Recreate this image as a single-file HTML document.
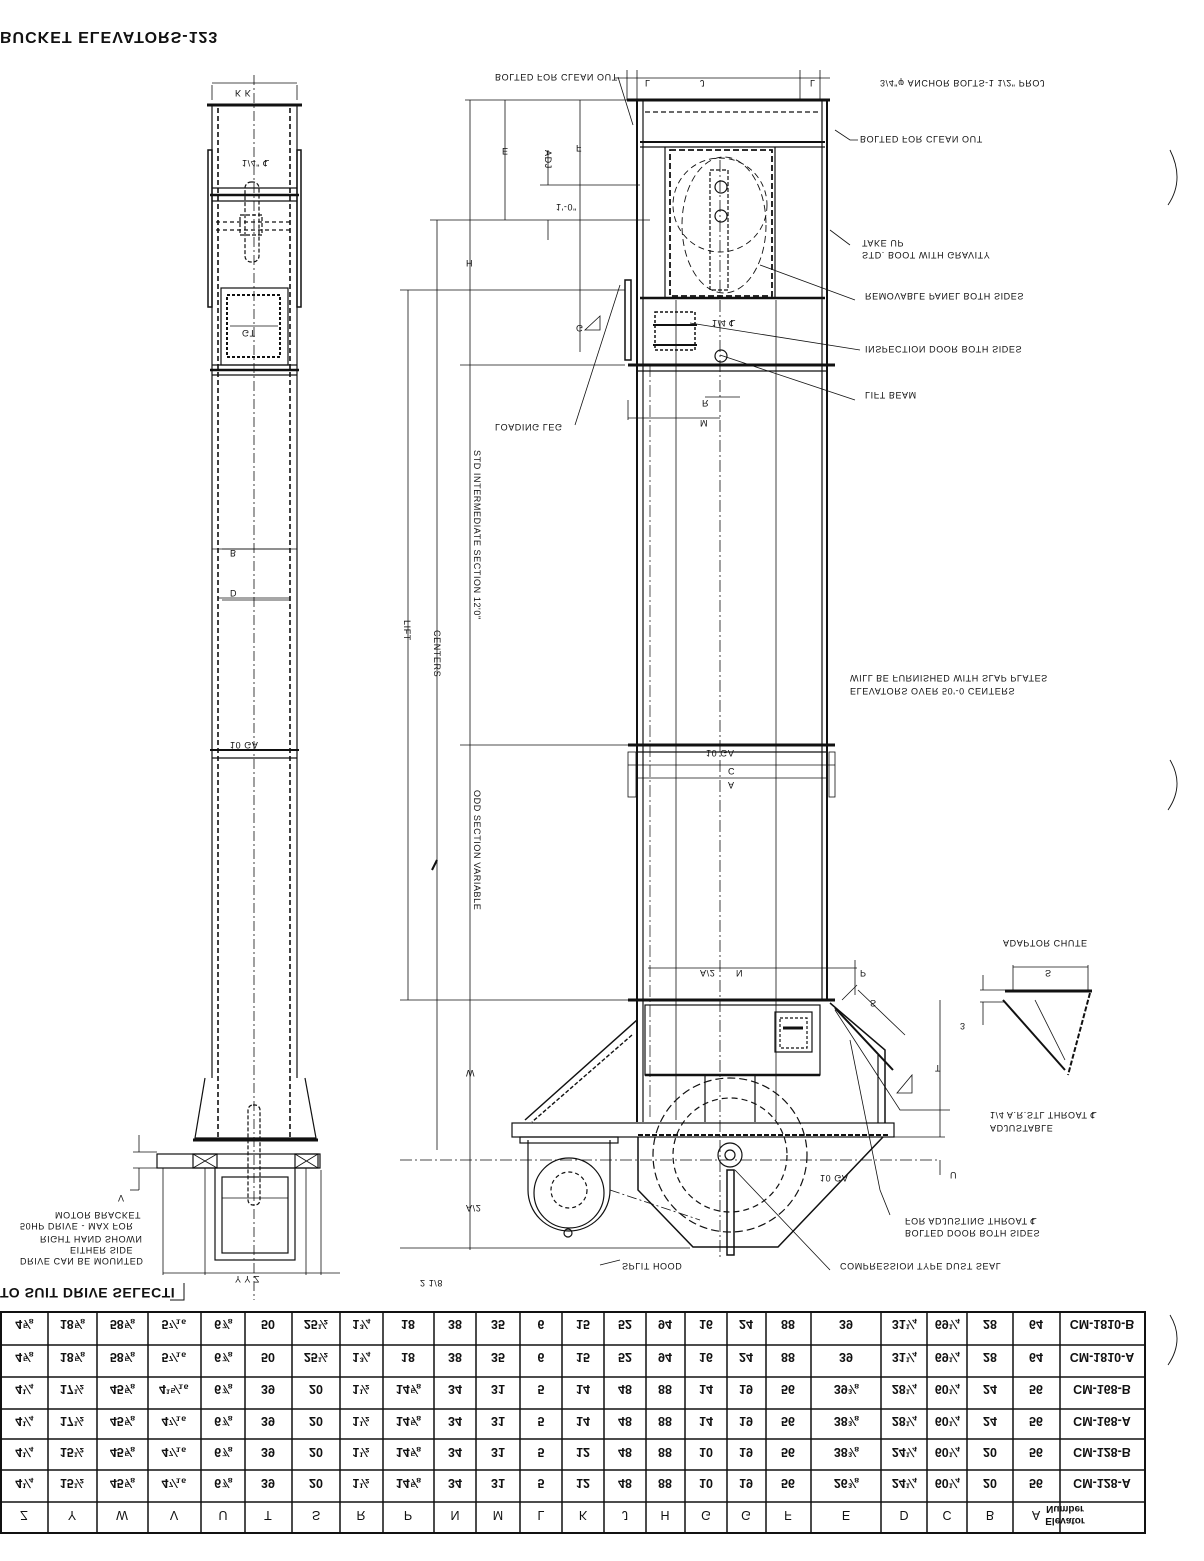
<!DOCTYPE html>
<html><head><meta charset="utf-8"><style>
html,body{margin:0;padding:0;background:#fff}
svg{display:block}
text{font-family:"Liberation Sans",sans-serif;fill:#111}
.a{font-size:9px;letter-spacing:0.6px}
.t{font-size:12.5px;text-anchor:middle;font-weight:bold}
</style></head><body>
<svg width="1204" height="1561" viewBox="0 0 1204 1561" xmlns="http://www.w3.org/2000/svg">
<rect width="1204" height="1561" fill="#fff"/>
<g stroke="#111" fill="none" stroke-width="1.2">

<!-- ===== LEFT SIDE VIEW ===== -->
<line x1="207" y1="105" x2="302" y2="105" stroke-width="3"/>
<line x1="212" y1="105" x2="212" y2="1078"/>
<line x1="297" y1="105" x2="297" y2="1078"/>
<line x1="218" y1="108" x2="218" y2="1140" stroke-dasharray="5,3" stroke-width="1.6"/>
<line x1="290" y1="108" x2="290" y2="1140" stroke-dasharray="5,3" stroke-width="1.6"/>
<line x1="254" y1="75" x2="254" y2="1300" stroke-dasharray="10,3,2,3" stroke-width="0.8"/>
<line x1="212" y1="188" x2="297" y2="188"/><line x1="210" y1="195" x2="299" y2="195" stroke-width="2.5"/><line x1="212" y1="201" x2="297" y2="201"/>
<rect x="208" y="150" width="4" height="157" stroke-width="1.5"/>
<rect x="297" y="150" width="4" height="157" stroke-width="1.5"/>
<line x1="216" y1="222" x2="292" y2="222" stroke-dasharray="4,3"/><line x1="216" y1="230" x2="292" y2="230" stroke-dasharray="4,3"/>
<rect x="245" y="182" width="14" height="80" rx="6" stroke-dasharray="4,2"/>
<rect x="240" y="215" width="22" height="20" stroke-dasharray="4,2"/>
<rect x="221" y="288" width="67" height="77"/>
<rect x="227" y="295" width="53" height="62" stroke-dasharray="3,2" stroke-width="2"/>
<line x1="230" y1="326" x2="278" y2="326" stroke-width="0.8"/>
<line x1="212" y1="365" x2="297" y2="365"/><line x1="210" y1="370" x2="299" y2="370" stroke-width="2.5"/><line x1="212" y1="375" x2="297" y2="375"/>
<line x1="210" y1="750" x2="299" y2="750" stroke-width="2"/><line x1="212" y1="758" x2="297" y2="758"/>
<line x1="212" y1="549" x2="297" y2="549" stroke-width="0.8"/><line x1="218" y1="598" x2="290" y2="598" stroke-width="0.8"/>
<line x1="212" y1="85" x2="212" y2="100" stroke-width="0.8"/><line x1="297" y1="85" x2="297" y2="100" stroke-width="0.8"/>
<line x1="212" y1="83" x2="297" y2="83" stroke-width="0.8"/>
<!-- left bottom -->
<polyline points="205,1078 195,1138 316,1138 305,1078"/>
<line x1="193" y1="1140" x2="318" y2="1140" stroke-width="3"/>
<rect x="157" y="1154" width="163" height="14"/>
<path d="M193,1154 L217,1168 M217,1154 L193,1168 M295,1154 L318,1168 M318,1154 L295,1168" stroke-width="0.9"/>
<rect x="193" y="1154" width="24" height="14"/><rect x="295" y="1154" width="23" height="14"/>
<rect x="215" y="1168" width="80" height="92"/>
<rect x="222" y="1177" width="66" height="76"/>
<line x1="222" y1="1198" x2="288" y2="1198" stroke-width="0.8"/>
<rect x="248" y="1105" width="12" height="100" rx="5" stroke-dasharray="4,2"/>
<line x1="163" y1="1168" x2="163" y2="1275" stroke-width="0.8"/><line x1="205" y1="1168" x2="205" y2="1275" stroke-width="0.8"/>
<line x1="306" y1="1168" x2="306" y2="1275" stroke-width="0.8"/><line x1="321" y1="1170" x2="321" y2="1275" stroke-width="0.8"/>
<line x1="163" y1="1273" x2="340" y2="1273" stroke-width="0.8"/>
<line x1="133" y1="1152" x2="157" y2="1152" stroke-width="0.8"/><line x1="133" y1="1168" x2="157" y2="1168" stroke-width="0.8"/>
<line x1="139" y1="1135" x2="139" y2="1152" stroke-width="0.8"/><line x1="139" y1="1168" x2="139" y2="1190" stroke-width="0.8"/><line x1="130" y1="1190" x2="139" y2="1190" stroke-width="0.8"/>
<polyline points="170,1300 184,1300 184,1283" stroke-width="1"/>
<line x1="222" y1="549" x2="290" y2="549" stroke-width="0.8"/>
<line x1="222" y1="600" x2="290" y2="600" stroke-width="0.8"/>

<!-- ===== CENTER FRONT VIEW ===== -->
<line x1="627" y1="100" x2="830" y2="100" stroke-width="3"/>
<line x1="637" y1="100" x2="637" y2="1122" stroke-width="2"/>
<line x1="643" y1="100" x2="643" y2="1122"/>
<line x1="822" y1="100" x2="822" y2="1000"/>
<line x1="827" y1="100" x2="827" y2="1000" stroke-width="2"/>
<line x1="645" y1="112" x2="820" y2="112" stroke-dasharray="5,3"/>
<line x1="640" y1="142" x2="825" y2="142" stroke-width="2"/>
<line x1="640" y1="147" x2="825" y2="147"/>
<line x1="665" y1="147" x2="665" y2="298"/><line x1="775" y1="147" x2="775" y2="298"/>
<rect x="670" y="150" width="102" height="146" stroke-dasharray="6,3" stroke-width="1.8"/>
<circle cx="720" cy="205" r="47" stroke-dasharray="6,4" stroke-width="0.9"/>
<ellipse cx="724" cy="225" rx="42" ry="68" stroke-dasharray="7,4" stroke-width="0.9"/>
<rect x="710" y="170" width="18" height="120" stroke-dasharray="4,2"/>
<circle cx="721" cy="187" r="6"/><circle cx="721" cy="216" r="6"/>
<line x1="640" y1="298" x2="825" y2="298" stroke-width="2.5"/>
<rect x="655" y="312" width="40" height="38" stroke-dasharray="3,2" stroke-width="1.5"/>
<line x1="653" y1="325" x2="697" y2="325" stroke-width="2"/><line x1="653" y1="345" x2="697" y2="345" stroke-width="2"/>
<circle cx="721" cy="356" r="6"/>
<line x1="628" y1="365" x2="835" y2="365" stroke-width="3"/><line x1="637" y1="371" x2="827" y2="371"/>
<rect x="625" y="280" width="6" height="80" stroke-width="1.5"/>
<line x1="628" y1="745" x2="835" y2="745" stroke-width="3"/><line x1="637" y1="752" x2="827" y2="752"/>
<rect x="628" y="752" width="8" height="45" stroke-width="0.8"/><rect x="829" y="752" width="6" height="45" stroke-width="0.8"/>
<line x1="720" y1="160" x2="720" y2="1260" stroke-dasharray="12,3,2,3" stroke-width="0.8"/>
<line x1="676" y1="300" x2="676" y2="1120" stroke-width="0.8"/>
<line x1="776" y1="300" x2="776" y2="1120" stroke-width="0.8"/>
<line x1="650" y1="365" x2="650" y2="1120" stroke-dasharray="12,3,2,3" stroke-width="0.7"/>
<line x1="628" y1="1000" x2="835" y2="1000" stroke-width="3"/>
<rect x="645" y="1005" width="175" height="70"/>
<line x1="645" y1="1075" x2="820" y2="1075" stroke-width="2.5"/>
<line x1="705" y1="1075" x2="705" y2="1122"/><line x1="755" y1="1075" x2="755" y2="1122"/>
<rect x="775" y="1012" width="37" height="40"/>
<rect x="780" y="1018" width="27" height="30" stroke-dasharray="3,2"/>
<line x1="783" y1="1028" x2="803" y2="1028" stroke-width="3"/>
<!-- left loading wing -->
<line x1="637" y1="1020" x2="525" y2="1120" stroke-width="1.5"/>
<line x1="632" y1="1035" x2="532" y2="1122" stroke-dasharray="4,2" stroke-width="1.4"/>
<!-- right wing -->
<polyline points="830,1003 885,1050 885,1123" stroke-width="1.5"/>
<line x1="878" y1="1055" x2="878" y2="1123"/>
<line x1="835" y1="1008" x2="893" y2="1070" stroke-width="2"/>
<!-- head plate -->
<rect x="512" y="1123" width="382" height="14"/>
<line x1="638" y1="1135" x2="890" y2="1135" stroke-dasharray="5,2" stroke-width="2"/>
<polyline points="638,1137 638,1190 693,1247 778,1247 883,1137" stroke-width="1.5"/>
<circle cx="730" cy="1155" r="77" stroke-dasharray="8,4"/>
<circle cx="730" cy="1155" r="57" stroke-dasharray="6,4"/>
<circle cx="730" cy="1155" r="12"/><circle cx="730" cy="1155" r="5"/>
<rect x="727" y="1170" width="7" height="85" stroke-width="1.5"/>
<!-- motor -->
<path d="M528,1140 L528,1190 A41,41 0 0 0 610,1190 L610,1140"/>
<circle cx="569" cy="1193" r="35"/>
<circle cx="569" cy="1190" r="18" stroke-dasharray="4,3"/>
<circle cx="568" cy="1233" r="4"/>
<rect x="520" y="1137" width="98" height="6"/>
<line x1="610" y1="1190" x2="700" y2="1220" stroke-dasharray="10,3,2,3" stroke-width="0.8"/>
<line x1="400" y1="1248" x2="690" y2="1248" stroke-width="0.8"/>
<line x1="400" y1="1160" x2="940" y2="1160" stroke-dasharray="12,3,2,3" stroke-width="0.7"/>

<!-- adaptor chute -->
<line x1="1005" y1="991" x2="1092" y2="991" stroke-width="3"/>
<line x1="1003" y1="1000" x2="1065" y2="1070" stroke-width="2"/>
<line x1="1090" y1="993" x2="1068" y2="1075" stroke-dasharray="5,2" stroke-width="2"/>
<line x1="1013" y1="965" x2="1013" y2="990" stroke-width="0.8"/><line x1="1088" y1="965" x2="1088" y2="990" stroke-width="0.8"/>
<line x1="1013" y1="967" x2="1088" y2="967" stroke-width="0.8"/>
<line x1="980" y1="990" x2="1005" y2="990" stroke-width="0.8"/><line x1="980" y1="1002" x2="1005" y2="1002" stroke-width="0.8"/>
<line x1="983" y1="975" x2="983" y2="990" stroke-width="0.8"/><line x1="983" y1="1002" x2="983" y2="1025" stroke-width="0.8"/>

<!-- dimension lines -->
<line x1="408" y1="290" x2="408" y2="1000" stroke-width="0.8"/>
<line x1="437" y1="220" x2="437" y2="1150" stroke-width="0.8"/>
<line x1="470" y1="100" x2="470" y2="1250" stroke-width="0.8"/>
<line x1="505" y1="100" x2="505" y2="220" stroke-width="0.8"/>
<line x1="580" y1="100" x2="580" y2="352" stroke-width="0.8"/>
<line x1="400" y1="290" x2="625" y2="290" stroke-width="0.8"/>
<line x1="430" y1="220" x2="650" y2="220" stroke-width="0.8"/>
<line x1="460" y1="365" x2="625" y2="365" stroke-width="0.8"/>
<line x1="400" y1="1000" x2="628" y2="1000" stroke-width="0.8"/>
<line x1="460" y1="745" x2="628" y2="745" stroke-width="0.8"/>
<line x1="465" y1="100" x2="627" y2="100" stroke-width="0.8"/>
<line x1="540" y1="185" x2="640" y2="185" stroke-width="0.8"/>
<line x1="548" y1="150" x2="548" y2="185" stroke-width="0.8"/><line x1="548" y1="220" x2="548" y2="240" stroke-width="0.8"/>
<line x1="940" y1="1000" x2="940" y2="1137" stroke-width="0.8"/>
<line x1="888" y1="1137" x2="945" y2="1137" stroke-width="0.8"/>
<line x1="940" y1="1160" x2="940" y2="1175" stroke-width="0.8"/>
<line x1="648" y1="968" x2="857" y2="968" stroke-width="0.8"/>
<line x1="628" y1="765" x2="835" y2="765" stroke-width="0.8"/>
<line x1="638" y1="778" x2="827" y2="778" stroke-width="0.8"/>
<line x1="627" y1="70" x2="627" y2="100" stroke-width="0.8"/><line x1="637" y1="70" x2="637" y2="100" stroke-width="0.8"/>
<line x1="800" y1="70" x2="800" y2="100" stroke-width="0.8"/><line x1="820" y1="70" x2="820" y2="100" stroke-width="0.8"/>
<line x1="615" y1="78" x2="830" y2="78" stroke-width="0.8"/>
<line x1="628" y1="400" x2="628" y2="420" stroke-width="0.8"/>
<line x1="628" y1="418" x2="720" y2="418" stroke-width="0.8"/>
<line x1="705" y1="397" x2="740" y2="397" stroke-width="0.8"/>
<line x1="855" y1="960" x2="855" y2="995" stroke-width="0.8"/>
<line x1="842" y1="1000" x2="857" y2="985" stroke-width="0.8"/>
<line x1="858" y1="990" x2="905" y2="1035" stroke-width="0.8"/>
<!-- leaders -->
<path d="M618,77 L633,125 M835,130 L850,140 L858,140 M830,230 L850,245 M760,265 L855,300 M690,323 L860,350 M720,355 L855,400 M620,285 L575,425 M850,1040 L880,1190 L890,1215 M735,1170 L830,1270 M620,1260 L600,1265 M835,1010 L900,1110 L950,1110 M1035,1000 L1065,1060" stroke-width="0.8"/>
<path d="M600,316 L585,330 L600,330 Z" stroke-width="0.8"/>
<path d="M912,1075 L912,1093 L897,1093 Z" stroke-width="0.8"/>
<!-- ) marks -->
<path d="M1170,150 Q1185,180 1168,205 M1170,760 Q1185,785 1168,810 M1170,1315 Q1185,1340 1168,1365" stroke-width="0.9"/>
<line x1="437" y1="860" x2="432" y2="870" stroke-width="2"/>

<!-- ===== TABLE ===== -->
<g stroke-width="1.5">
<rect x="1" y="1312" width="1144" height="221" stroke-width="2"/>
<line x1="0" y1="1345" x2="1145" y2="1345"/><line x1="0" y1="1377" x2="1145" y2="1377"/>
<line x1="0" y1="1409" x2="1145" y2="1409"/><line x1="0" y1="1439" x2="1145" y2="1439"/>
<line x1="0" y1="1470" x2="1145" y2="1470"/><line x1="0" y1="1502" x2="1145" y2="1502"/>
<path d="M48,1312V1533M97,1312V1533M148,1312V1533M201,1312V1533M245,1312V1533M292,1312V1533M340,1312V1533M383,1312V1533M434,1312V1533M476,1312V1533M520,1312V1533M562,1312V1533M604,1312V1533M646,1312V1533M685,1312V1533M727,1312V1533M766,1312V1533M811,1312V1533M881,1312V1533M927,1312V1533M967,1312V1533M1013,1312V1533M1060,1312V1533"/>
</g>
</g>

<!-- ===== TEXT (vertically flipped) ===== -->
<g>
<text transform="matrix(1,0,0,-1,0,32)" style="font-size:16px;font-weight:bold;letter-spacing:1px">BUCKET ELEVATORS-123</text>
<text class="a" transform="matrix(1,0,0,-1,880,80)">3/4"φ ANCHOR BOLTS-1 1/2" PROJ</text>
<text class="a" transform="matrix(1,0,0,-1,495,74)">BOLTED FOR CLEAN OUT</text>
<text class="a" transform="matrix(1,0,0,-1,860,136)">BOLTED FOR CLEAN OUT</text>
<text class="a" transform="matrix(1,0,0,-1,862,252)">STD. BOOT WITH GRAVITY</text>
<text class="a" transform="matrix(1,0,0,-1,862,240)">TAKE UP</text>
<text class="a" transform="matrix(1,0,0,-1,865,293)">REMOVABLE PANEL BOTH SIDES</text>
<text class="a" transform="matrix(1,0,0,-1,865,346)">INSPECTION DOOR BOTH SIDES</text>
<text class="a" transform="matrix(1,0,0,-1,865,392)">LIFT BEAM</text>
<text class="a" transform="matrix(1,0,0,-1,495,424)">LOADING LEG</text>
<text class="a" transform="matrix(1,0,0,-1,850,688)">ELEVATORS OVER 50'-0 CENTERS</text>
<text class="a" transform="matrix(1,0,0,-1,850,675)">WILL BE FURNISHED WITH SLAP PLATES</text>
<text class="a" transform="matrix(1,0,0,-1,1003,940)">ADAPTOR CHUTE</text>
<text class="a" transform="matrix(1,0,0,-1,990,1125)">ADJUSTABLE</text>
<text class="a" transform="matrix(1,0,0,-1,990,1112)">1/4 A.R.STL THROAT ℄</text>
<text class="a" transform="matrix(1,0,0,-1,905,1230)">BOLTED DOOR BOTH SIDES</text>
<text class="a" transform="matrix(1,0,0,-1,905,1218)">FOR ADJUSTING THROAT ℄</text>
<text class="a" transform="matrix(1,0,0,-1,840,1263)">COMPRESSION TYPE DUST SEAL</text>
<text class="a" transform="matrix(1,0,0,-1,622,1263)">SPLIT HOOD</text>
<text class="a" transform="matrix(1,0,0,-1,20,1258)">DRIVE CAN BE MOUNTED</text>
<text class="a" transform="matrix(1,0,0,-1,70,1247)">EITHER SIDE</text>
<text class="a" transform="matrix(1,0,0,-1,40,1236)">RIGHT HAND SHOWN</text>
<text class="a" transform="matrix(1,0,0,-1,20,1223)">50HP DRIVE - MAX FOR</text>
<text class="a" transform="matrix(1,0,0,-1,55,1212)">MOTOR BRACKET</text>
<text transform="matrix(1,0,0,-1,0,1288)" style="font-size:14px;font-weight:bold;letter-spacing:0.5px">TO SUIT DRIVE SELECTI</text>
<text class="a" transform="matrix(1,0,0,-1,706,750)">10 GA</text>
<text class="a" transform="matrix(1,0,0,-1,230,742)">10 GA</text>
<text class="a" transform="matrix(1,0,0,-1,820,1175)">10 GA</text>
<text class="a" transform="matrix(1,0,0,-1,712,320)">1/4 ℄</text>
<text class="a" transform="matrix(1,0,0,-1,242,160)">1/4" ℄</text>
<text class="a" transform="matrix(1,0,0,-1,556,204)">1'-0"</text>
<text class="a" transform="matrix(1,0,0,-1,230,590)">D</text>
<text class="a" transform="matrix(1,0,0,-1,230,550)">B</text>
<text class="a" transform="matrix(1,0,0,-1,242,330)">GT</text>
<text class="a" transform="matrix(1,0,0,-1,235,90)">K  K</text>
<text class="a" transform="matrix(1,0,0,-1,700,80)">J</text>
<text class="a" transform="matrix(1,0,0,-1,645,80)">L</text>
<text class="a" transform="matrix(1,0,0,-1,810,80)">L</text>
<text class="a" transform="matrix(1,0,0,-1,728,782)">A</text>
<text class="a" transform="matrix(1,0,0,-1,728,768)">C</text>
<text class="a" transform="matrix(1,0,0,-1,736,970)">N</text>
<text class="a" transform="matrix(1,0,0,-1,860,970)">P</text>
<text class="a" transform="matrix(1,0,0,-1,1045,970)">S</text>
<text class="a" transform="matrix(1,0,0,-1,870,1000)">S</text>
<text class="a" transform="matrix(1,0,0,-1,935,1065)">T</text>
<text class="a" transform="matrix(1,0,0,-1,960,1023)">3</text>
<text class="a" transform="matrix(1,0,0,-1,950,1172)">U</text>
<text class="a" transform="matrix(1,0,0,-1,700,420)">M</text>
<text class="a" transform="matrix(1,0,0,-1,702,400)">R</text>
<text class="a" transform="matrix(1,0,0,-1,118,1195)">V</text>
<text class="a" transform="matrix(1,0,0,-1,235,1276)">Y  Y  Z</text>
<text class="a" transform="matrix(1,0,0,-1,466,260)">H</text>
<text class="a" transform="matrix(1,0,0,-1,576,325)">G</text>
<text class="a" transform="matrix(1,0,0,-1,576,145)">F</text>
<text class="a" transform="matrix(1,0,0,-1,502,148)">E</text>
<text class="a" transform="matrix(1,0,0,-1,466,1070)">W</text>
<text class="a" transform="matrix(1,0,0,-1,466,1205)">A/2</text>
<text class="a" transform="matrix(1,0,0,-1,700,970)">A/2</text>
<text class="a" transform="matrix(1,0,0,-1,420,1280)">2 1/8</text>
<text class="a" transform="translate(404,620) rotate(90)">LIFT</text>
<text class="a" transform="translate(434,630) rotate(90)">CENTERS</text>
<text class="a" transform="translate(474,450) rotate(90)">STD INTERMEDIATE SECTION 12'0"</text>
<text class="a" transform="translate(474,790) rotate(90)">ODD SECTION VARIABLE</text>
<text class="a" transform="translate(545,150) rotate(90)">ADJ</text>
</g>

<!-- table text -->
<g class="t">
<text class="t" transform="matrix(1,0,0,-1,0,1320)"><tspan x="24">4⅝</tspan><tspan x="72">18⅝</tspan><tspan x="122">58⅝</tspan><tspan x="174">5⁷⁄₁₆</tspan><tspan x="223">6⅞</tspan><tspan x="268">50</tspan><tspan x="316">25½</tspan><tspan x="361">1¾</tspan><tspan x="408">18</tspan><tspan x="455">38</tspan><tspan x="498">35</tspan><tspan x="541">6</tspan><tspan x="583">15</tspan><tspan x="625">52</tspan><tspan x="665">94</tspan><tspan x="706">16</tspan><tspan x="746">24</tspan><tspan x="788">88</tspan><tspan x="846">39</tspan><tspan x="904">31¼</tspan><tspan x="947">69¼</tspan><tspan x="990">28</tspan><tspan x="1036">64</tspan><tspan x="1102">CM-1810-B</tspan></text>
<text class="t" transform="matrix(1,0,0,-1,0,1353)"><tspan x="24">4⅝</tspan><tspan x="72">18⅝</tspan><tspan x="122">58⅝</tspan><tspan x="174">5⁷⁄₁₆</tspan><tspan x="223">6⅞</tspan><tspan x="268">50</tspan><tspan x="316">25½</tspan><tspan x="361">1¾</tspan><tspan x="408">18</tspan><tspan x="455">38</tspan><tspan x="498">35</tspan><tspan x="541">6</tspan><tspan x="583">15</tspan><tspan x="625">52</tspan><tspan x="665">94</tspan><tspan x="706">16</tspan><tspan x="746">24</tspan><tspan x="788">88</tspan><tspan x="846">39</tspan><tspan x="904">31¼</tspan><tspan x="947">69¼</tspan><tspan x="990">28</tspan><tspan x="1036">64</tspan><tspan x="1102">CM-1810-A</tspan></text>
<text class="t" transform="matrix(1,0,0,-1,0,1385)"><tspan x="24">4¼</tspan><tspan x="72">17½</tspan><tspan x="122">45⅝</tspan><tspan x="174">4¹⁵⁄₁₆</tspan><tspan x="223">6⅞</tspan><tspan x="268">39</tspan><tspan x="316">20</tspan><tspan x="361">1½</tspan><tspan x="408">14⅝</tspan><tspan x="455">34</tspan><tspan x="498">31</tspan><tspan x="541">5</tspan><tspan x="583">14</tspan><tspan x="625">48</tspan><tspan x="665">88</tspan><tspan x="706">14</tspan><tspan x="746">19</tspan><tspan x="788">56</tspan><tspan x="846">39⅜</tspan><tspan x="904">28¼</tspan><tspan x="947">60¼</tspan><tspan x="990">24</tspan><tspan x="1036">56</tspan><tspan x="1102">CM-168-B</tspan></text>
<text class="t" transform="matrix(1,0,0,-1,0,1417)"><tspan x="24">4¼</tspan><tspan x="72">17½</tspan><tspan x="122">45⅝</tspan><tspan x="174">4⁷⁄₁₆</tspan><tspan x="223">6⅞</tspan><tspan x="268">39</tspan><tspan x="316">20</tspan><tspan x="361">1½</tspan><tspan x="408">14⅝</tspan><tspan x="455">34</tspan><tspan x="498">31</tspan><tspan x="541">5</tspan><tspan x="583">14</tspan><tspan x="625">48</tspan><tspan x="665">88</tspan><tspan x="706">14</tspan><tspan x="746">19</tspan><tspan x="788">56</tspan><tspan x="846">38⅜</tspan><tspan x="904">28¼</tspan><tspan x="947">60¼</tspan><tspan x="990">24</tspan><tspan x="1036">56</tspan><tspan x="1102">CM-168-A</tspan></text>
<text class="t" transform="matrix(1,0,0,-1,0,1448)"><tspan x="24">4¼</tspan><tspan x="72">15½</tspan><tspan x="122">45⅝</tspan><tspan x="174">4⁷⁄₁₆</tspan><tspan x="223">6⅞</tspan><tspan x="268">39</tspan><tspan x="316">20</tspan><tspan x="361">1½</tspan><tspan x="408">14⅝</tspan><tspan x="455">34</tspan><tspan x="498">31</tspan><tspan x="541">5</tspan><tspan x="583">12</tspan><tspan x="625">48</tspan><tspan x="665">88</tspan><tspan x="706">10</tspan><tspan x="746">19</tspan><tspan x="788">56</tspan><tspan x="846">38⅜</tspan><tspan x="904">24¼</tspan><tspan x="947">60¼</tspan><tspan x="990">20</tspan><tspan x="1036">56</tspan><tspan x="1102">CM-128-B</tspan></text>
<text class="t" transform="matrix(1,0,0,-1,0,1479)"><tspan x="24">4¼</tspan><tspan x="72">15½</tspan><tspan x="122">45⅝</tspan><tspan x="174">4⁷⁄₁₆</tspan><tspan x="223">6⅞</tspan><tspan x="268">39</tspan><tspan x="316">20</tspan><tspan x="361">1½</tspan><tspan x="408">14⅝</tspan><tspan x="455">34</tspan><tspan x="498">31</tspan><tspan x="541">5</tspan><tspan x="583">12</tspan><tspan x="625">48</tspan><tspan x="665">88</tspan><tspan x="706">10</tspan><tspan x="746">19</tspan><tspan x="788">56</tspan><tspan x="846">26⅜</tspan><tspan x="904">24¼</tspan><tspan x="947">60¼</tspan><tspan x="990">20</tspan><tspan x="1036">56</tspan><tspan x="1102">CM-128-A</tspan></text>
<text class="t" style="font-weight:normal" transform="matrix(1,0,0,-1,0,1511)"><tspan x="24">Z</tspan><tspan x="72">Y</tspan><tspan x="122">W</tspan><tspan x="174">V</tspan><tspan x="223">U</tspan><tspan x="268">T</tspan><tspan x="316">S</tspan><tspan x="361">R</tspan><tspan x="408">P</tspan><tspan x="455">N</tspan><tspan x="498">M</tspan><tspan x="541">L</tspan><tspan x="583">K</tspan><tspan x="625">J</tspan><tspan x="665">H</tspan><tspan x="706">G</tspan><tspan x="746">G</tspan><tspan x="788">F</tspan><tspan x="846">E</tspan><tspan x="904">D</tspan><tspan x="947">C</tspan><tspan x="990">B</tspan><tspan x="1036">A</tspan></text>
<text transform="matrix(1,0,0,-1,1065,1518)" style="font-size:10px">Elevator</text>
<text transform="matrix(1,0,0,-1,1065,1506)" style="font-size:10px">Number</text>
</g>
</svg>
</body></html>
